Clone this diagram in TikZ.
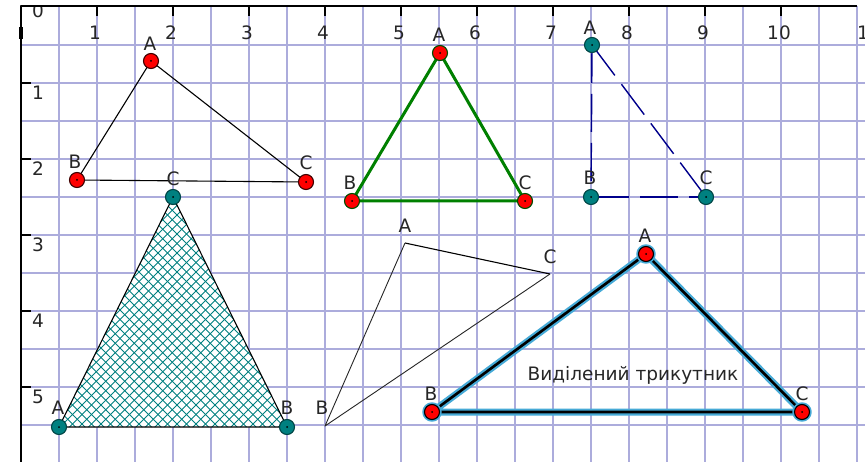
\documentclass[tikz,border=0pt]{standalone}
\usepackage{fontspec}
\setmainfont{DejaVu Sans}
\definecolor{gridc}{RGB}{172,172,220}
\definecolor{tealc}{RGB}{0,128,128}
\definecolor{tealdark}{RGB}{0,70,70}
\definecolor{redc}{RGB}{255,0,0}
\definecolor{greenc}{RGB}{0,128,0}
\definecolor{navyc}{RGB}{0,0,140}
\definecolor{haloc}{RGB}{70,170,215}
\tikzset{
  gridline/.style={draw=gridc, line width=1.5pt},
  axisline/.style={draw=black, line width=1.6pt},
  ticklab/.style={font=\fontsize{18.5}{20}\selectfont, inner sep=0pt, text=black!85},
  vlab/.style={font=\fontsize{18.5}{20}\selectfont, inner sep=0pt, text=black!85},
  ptbase/.style={circle, minimum size=15pt, inner sep=0pt, line width=1.1pt,
    path picture={\fill[black] (path picture bounding box.center) circle (1pt);}},
  redpt/.style={ptbase, fill=redc, draw=black!75!red},
  redgreenpt/.style={ptbase, fill=redc, draw=greenc!60!black},
  redselpt/.style={ptbase, fill=redc, draw=black, preaction={draw=haloc, line width=4.5pt}},
  tealpt/.style={ptbase, fill=tealc, draw=tealdark},
  thinedge/.style={draw=black, line width=1.1pt},
  faintedge/.style={draw=black!85, line width=0.9pt},
  greenedge/.style={draw=greenc, line width=3pt},
  navyedge/.style={draw=navyc, line width=1.4pt, dash pattern=on 38pt off 11pt},
  haloedge/.style={draw=haloc, line width=7pt},
  seledge/.style={draw=black, line width=2.6pt},
  hatchline/.style={draw=tealc, line width=0.9pt},
}
\begin{document}
\begin{tikzpicture}[x=1pt, y=-1pt, line join=round]
\useasboundingbox (0,0) rectangle (865,462);
\clip (0,0) rectangle (865,462);
\fill[white] (0,0) rectangle (865,462);
% grid
\foreach \i in {1,...,22} \draw[gridline] ({21+38*\i},6) -- ({21+38*\i},462);
\foreach \j in {1,...,12} \draw[gridline] (21,{7+38*\j}) -- (865,{7+38*\j});
% axis labels
\node[ticklab] (xl0) at (38,11) {0};
\fill[white] (0,0) rectangle (865,5.5);
\foreach \n in {1,...,10} {
  \draw[axisline] ({21+76*\n},6) -- ({21+76*\n},16);
  \node[ticklab] (xl\n) at ({19+76*\n},33) {\n};
}
\node[ticklab, anchor=west] (xl11) at (857,33) {11};
\foreach \n in {1,...,5} {
  \draw[axisline] (21,{7+76*\n}) -- (31,{7+76*\n});
  \node[ticklab] (yl\n) at (38,{17+76*\n}) {\n};
}
\draw[axisline] (21,462) -- (21,6) -- (857,6);
\fill[black] (19,27) rectangle (23,39);

% ---- triangle 4 (hatched)
\coordinate (dA) at (59,427);
\coordinate (dB) at (287,427);
\coordinate (dC) at (173,197);
\begin{scope}
  \clip (dA) -- (dB) -- (dC) -- cycle;
  \fill[white] (dA) -- (dB) -- (dC) -- cycle;
  \foreach \k in {0,...,75} {
    \draw[hatchline] ({-190+9.5*\k},190) -- ++(240,240);
    \draw[hatchline] ({50+9.5*\k},190) -- ++(-240,240);
  }
\end{scope}
\draw[thinedge] (dA) -- (dB) -- (dC) -- cycle;

% ---- triangle 1
\coordinate (aA) at (151,61);
\coordinate (aB) at (77,180);
\coordinate (aC) at (306,182);
\draw[thinedge] (aA) -- (aB) -- (aC) -- cycle;
\node[redpt] (aAp) at (aA) {};
\node[redpt] (aBp) at (aB) {};
\node[redpt] (aCp) at (aC) {};
\node[vlab] (aAl) at (150,44) {A};
\node[vlab] (aBl) at (75,162) {B};
\node[vlab] (aCl) at (306,163) {C};

% markers of triangle 4
\node[tealpt] (dAp) at (dA) {};
\node[tealpt] (dBp) at (dB) {};
\node[tealpt] (dCp) at (dC) {};
\node[vlab] (dAl) at (58,408) {A};
\node[vlab] (dBl) at (287,408) {B};
\node[vlab] (dCl) at (173,179) {C};

% ---- triangle 2 (green)
\coordinate (bA) at (440,53);
\coordinate (bB) at (352,201);
\coordinate (bC) at (525,201);
\draw[greenedge] (bA) -- (bB) -- (bC) -- cycle;
\node[redgreenpt] (bAp) at (bA) {};
\node[redgreenpt] (bBp) at (bB) {};
\node[redgreenpt] (bCp) at (bC) {};
\node[vlab] (bAl) at (439,35) {A};
\node[vlab] (bBl) at (350,183) {B};
\node[vlab] (bCl) at (525,183) {C};

% ---- triangle 3 (navy dashed)
\coordinate (cA) at (592,45);
\coordinate (cB) at (591,197);
\coordinate (cC) at (706,197);
\draw[navyedge] (cA) -- (cB);
\draw[navyedge] (cB) -- (cC);
\draw[navyedge] (cA) -- (cC);
\node[tealpt] (cAp) at (cA) {};
\node[tealpt] (cBp) at (cB) {};
\node[tealpt] (cCp) at (cC) {};
\node[vlab] (cAl) at (590,28) {A};
\node[vlab] (cBl) at (590,178) {B};
\node[vlab] (cCl) at (706,178) {C};

% ---- triangle 5 (plain)
\coordinate (eA) at (405,243);
\coordinate (eB) at (325,426);
\coordinate (eC) at (550,274);
\draw[thinedge] (eA) -- (eC);
\draw[faintedge] (eA) -- (eB) -- (eC);
\node[vlab] (eAl) at (405,226) {A};
\node[vlab] (eBl) at (322,408) {B};
\node[vlab] (eCl) at (550,257) {C};

% ---- triangle 6 (selected)
\coordinate (fA) at (646,254);
\coordinate (fB) at (432,412);
\coordinate (fC) at (802,412);
\draw[haloedge] (fA) -- (fB) -- (fC) -- cycle;
\draw[seledge] (fA) -- (fB) -- (fC) -- cycle;
\node[redselpt] (fAp) at (fA) {};
\node[redselpt] (fBp) at (fB) {};
\node[redselpt] (fCp) at (fC) {};
\node[vlab] (fAl) at (645,236) {A};
\node[vlab] (fBl) at (431,394) {B};
\node[vlab] (fCl) at (802,394) {C};
\node[font=\fontsize{18.5}{20}\selectfont, inner sep=0pt, text=black!85] (ftext) at (633,375) {Виділений трикутник};
\end{tikzpicture}
\end{document}
